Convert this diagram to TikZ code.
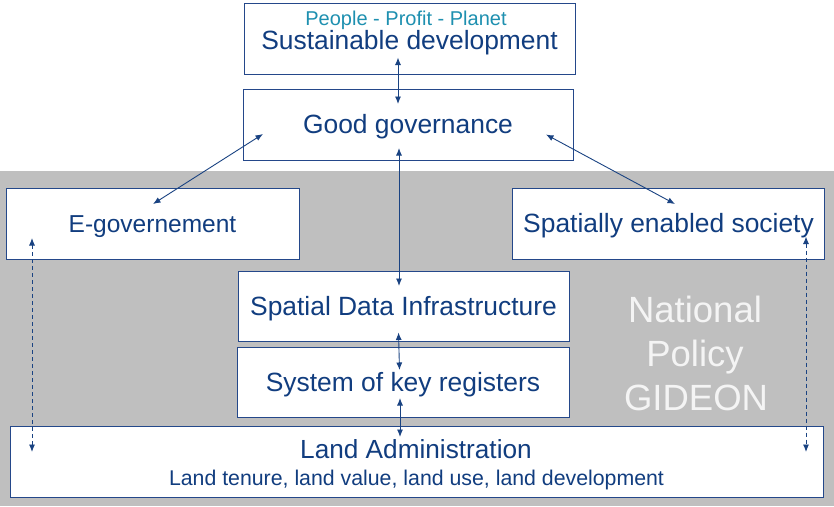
\documentclass[tikz,border=0pt]{standalone}
\usepackage{fontspec}
\setmainfont{Liberation Sans}
\usetikzlibrary{arrows.meta}
\definecolor{navytext}{HTML}{113D7F}
\definecolor{boxline}{HTML}{24488A}
\definecolor{arrowcol}{HTML}{1A4382}
\definecolor{tealtext}{HTML}{1E90B0}
\definecolor{bggray}{HTML}{BFBFBF}
\definecolor{ghost}{HTML}{F4F4F4}
\tikzset{
  box/.style={draw=boxline, line width=0.9pt, fill=white, inner sep=0pt, rectangle},
  bigtext/.style={font=\fontsize{26.4pt}{31pt}\selectfont, text=navytext, text height=18.9pt, text depth=0pt},
  basetext/.style={anchor=base, inner sep=0pt},
  link/.style={draw=arrowcol, line width=0.9pt, {Latex[length=7.5pt,width=6pt]}-{Latex[length=7.5pt,width=6pt]}},
  dlink/.style={link, dash pattern=on 4pt off 3pt},
}
\begin{document}
\begin{tikzpicture}[x=1pt,y=-1pt]
\useasboundingbox (0,0) rectangle (834,506);
\fill[bggray] (0,171) rectangle (834,506);

% boxes
\node[box, minimum width=331pt, minimum height=71pt] (sd) at (409.5,38.5) {};
\node[box, bigtext, minimum width=330pt, minimum height=71pt] (gg) at (408,124.5) {Good governance};
\node[box, bigtext, font=\fontsize{24.5pt}{29pt}\selectfont, text height=17.5pt, minimum width=293pt, minimum height=71pt] (eg) at (152.5,223.5) {E-governement};
\node[box, bigtext, minimum width=312pt, minimum height=71pt] (ses) at (668.5,223.5) {Spatially enabled society};
\node[box, bigtext, minimum width=331pt, minimum height=70pt] (sdi) at (403.5,306) {Spatial Data Infrastructure};
\node[box, bigtext, minimum width=332pt, minimum height=70pt] (skr) at (403,382) {System of key registers};
\node[box, minimum width=813pt, minimum height=71pt] (la) at (416.5,461.5) {};

% multi-line texts
\node[basetext, font=\fontsize{20pt}{24pt}\selectfont, text=tealtext] (ppp) at (406,25) {People - Profit - Planet};
\node[basetext, font=\fontsize{26.4pt}{31pt}\selectfont, text=navytext] (sdt) at (409.5,49) {Sustainable development};
\node[basetext, font=\fontsize{26.2pt}{31pt}\selectfont, text=navytext] (lat) at (416,458) {Land Administration};
\node[basetext, font=\fontsize{21.3pt}{25pt}\selectfont, text=navytext] (lst) at (416.5,485) {Land tenure, land value, land use, land development};

% National policy
\node[basetext, font=\fontsize{36.5pt}{44pt}\selectfont, text=ghost] (np1) at (695,322) {National};
\node[basetext, font=\fontsize{36.5pt}{44pt}\selectfont, text=ghost] (np2) at (695,366) {Policy};
\node[basetext, font=\fontsize{36.5pt}{44pt}\selectfont, text=ghost] (np3) at (696,410) {GIDEON};

% arrow end points
\coordinate (sdA) at (398,57.5);
\coordinate (ggA) at (398,104);
\coordinate (ggL) at (263,134);
\coordinate (egA) at (153,204);
\coordinate (ggR) at (546,134.5);
\coordinate (sesA) at (675,204);
\coordinate (ggB) at (399,148);
\coordinate (sdiT) at (399,286);
\coordinate (sdiB) at (398.5,332.5);
\coordinate (skrT) at (399.5,370);
\coordinate (skrB) at (400,398);
\coordinate (laT) at (400,437);
\coordinate (egB) at (32,238);
\coordinate (laL) at (32,452);
\coordinate (sesB) at (806,236.5);
\coordinate (laR) at (806,452);

\draw[link] (sdA) -- (ggA);
\draw[link] (ggL) -- (egA);
\draw[link] (ggR) -- (sesA);
\draw[link] (ggB) -- (sdiT);
\draw[link] (sdiB) -- (skrT);
\draw[link] (skrB) -- (laT);
\draw[dlink] (egB) -- (laL);
\draw[dlink] (sesB) -- (laR);
\end{tikzpicture}
\end{document}
